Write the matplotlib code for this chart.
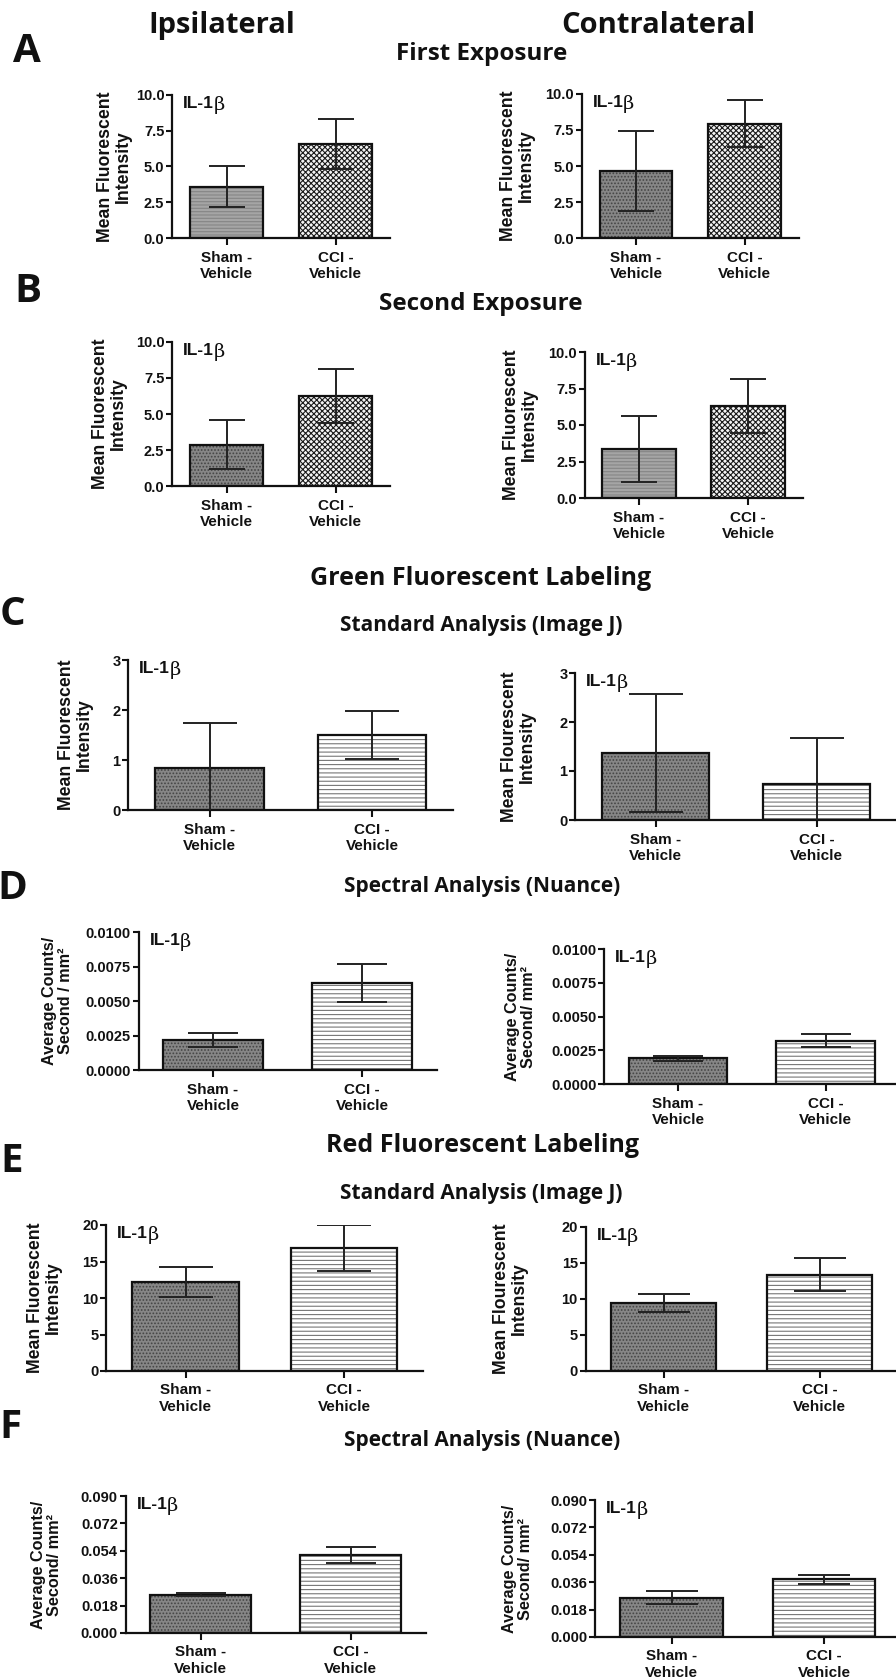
import matplotlib
matplotlib.use("Agg")
import matplotlib.pyplot as plt
import numpy as np

plt.rcParams['font.family'] = ['Liberation Sans', 'DejaVu Sans']
plt.rcParams['font.weight'] = 'bold'
plt.rcParams['hatch.linewidth'] = 0.8

W, H, DPI = 896, 1679, 100

# ---------------- data ----------------
groups = ["Sham -\nVehicle", "CCI -\nVehicle"]

a_ipsi_mean = [3.6, 6.55]
a_ipsi_sem = [1.42, 1.75]
a_contra_mean = [4.65, 7.95]
a_contra_sem = [2.8, 1.6]

b_ipsi_mean = [2.85, 6.25]
b_ipsi_sem = [1.7, 1.85]
b_contra_mean = [3.35, 6.3]
b_contra_sem = [2.25, 1.85]

c_ipsi_mean = [0.85, 1.5]
c_ipsi_sem = [0.9, 0.48]
c_contra_mean = [1.37, 0.73]
c_contra_sem = [1.21, 0.95]

d_ipsi_mean = [0.0022, 0.0063]
d_ipsi_sem = [0.0005, 0.00135]
d_contra_mean = [0.0019, 0.0032]
d_contra_sem = [0.0002, 0.00048]

e_ipsi_mean = [12.2, 16.8]
e_ipsi_sem = [2.0, 3.15]
e_contra_mean = [9.4, 13.4]
e_contra_sem = [1.27, 2.25]

f_ipsi_mean = [0.0252, 0.0512]
f_ipsi_sem = [0.001, 0.0055]
f_contra_mean = [0.0259, 0.038]
f_contra_sem = [0.0043, 0.003]

ticks_ab = [0, 2.5, 5.0, 7.5, 10.0]
ticks_c = [0, 1, 2, 3]
ticks_d = [0, 0.0025, 0.005, 0.0075, 0.01]
ticks_e = [0, 5, 10, 15, 20]
ticks_f = [0, 0.018, 0.036, 0.054, 0.072, 0.09]

ylab_mfi = "Mean Fluorescent\nIntensity"
ylab_mfi_typo = "Mean Flourescent\nIntensity"
ylab_acs_d = "Average Counts/\nSecond / mm\u00b2"
ylab_acs = "Average Counts/\nSecond/ mm\u00b2"
marker_label = "IL-1"

col_titles = ["Ipsilateral", "Contralateral"]
panel_letters = ["A", "B", "C", "D", "E", "F"]
section_titles = ["First Exposure", "Second Exposure", "Green Fluorescent Labeling",
                  "Standard Analysis (Image J)", "Spectral Analysis (Nuance)",
                  "Red Fluorescent Labeling", "Standard Analysis (Image J)",
                  "Spectral Analysis (Nuance)"]

# ---------------- layout (pixels) ----------------
# (mean, sem, ticks, fmt, ylabel, cci_style, sham_style, c0, spacing, top, bottom, label_right)
panels = [
    (a_ipsi_mean, a_ipsi_sem, ticks_ab, "%.1f", ylab_mfi, "check", "light", 226.5, 109, 95, 238, 132),
    (a_contra_mean, a_contra_sem, ticks_ab, "%.1f", ylab_mfi, "check", "dark", 636, 108.5, 94, 238, 535),
    (b_ipsi_mean, b_ipsi_sem, ticks_ab, "%.1f", ylab_mfi, "check", "dark", 226.5, 109, 342, 486, 127),
    (b_contra_mean, b_contra_sem, ticks_ab, "%.1f", ylab_mfi, "check", "light", 639, 109, 352, 498, 538),
    (c_ipsi_mean, c_ipsi_sem, ticks_c, "%d", ylab_mfi, "lines", "dark", 209.5, 162.5, 660, 810, 93),
    (c_contra_mean, c_contra_sem, ticks_c, "%d", ylab_mfi_typo, "lines", "dark", 655.5, 161, 673, 820, 536),
    (d_ipsi_mean, d_ipsi_sem, ticks_d, "%.4f", ylab_acs_d, "lines", "dark", 213, 149, 932, 1070, 73),
    (d_contra_mean, d_contra_sem, ticks_d, "%.4f", ylab_acs, "lines", "dark", 678, 147.5, 949, 1084, 536),
    (e_ipsi_mean, e_ipsi_sem, ticks_e, "%d", ylab_mfi, "lines", "dark", 185.5, 158.5, 1225, 1371, 62),
    (e_contra_mean, e_contra_sem, ticks_e, "%d", ylab_mfi_typo, "lines", "dark", 663.5, 156, 1227, 1371, 528),
    (f_ipsi_mean, f_ipsi_sem, ticks_f, "%.3f", ylab_acs, "lines", "dark", 200.5, 150, 1496, 1633, 62),
    (f_contra_mean, f_contra_sem, ticks_f, "%.3f", ylab_acs, "lines", "dark", 671.5, 152.5, 1500, 1637, 533),
]

fig = plt.figure(figsize=(W / DPI, H / DPI), dpi=DPI)
fig.patch.set_facecolor('white')

BW = 0.67
x = np.arange(len(groups))

for (mean, sem, ticks, fmt, ylab, cci_style, sham_style, c0, s, top, bot, lab_r) in panels:
    x0 = c0 - 0.5 * s
    x1 = c0 + 1.5 * s
    ax = fig.add_axes([x0 / W, 1 - bot / H, (x1 - x0) / W, (bot - top) / H])
    ax.set_xlim(-0.5, 1.5)
    ax.set_ylim(0, ticks[-1])

    # Sham bar fill
    if sham_style == "dark":
        ax.bar(x[0], mean[0], BW, color='#868686', hatch='.....', edgecolor='#444444', linewidth=0, zorder=1)
    else:
        ax.bar(x[0], mean[0], BW, color='#a5a5a5', hatch='-----', edgecolor='#858585', linewidth=0, zorder=1)
    # CCI bar fill
    if cci_style == "check":
        ax.bar(x[1], mean[1], BW, color='#f4f4f4', hatch='xxxxxx', edgecolor='#1a1a1a', linewidth=0, zorder=1)
    else:
        ax.bar(x[1], mean[1], BW, color='white', hatch='----', edgecolor='#777777', linewidth=0, zorder=1)
    # outlines
    ax.bar(x, mean, BW, fill=False, edgecolor='#111111', linewidth=1.6, zorder=3)
    cap_pts = BW * s / 4 * 72 / DPI
    ax.errorbar(x, mean, yerr=sem, fmt='none', ecolor='#222222', elinewidth=1.4,
                capsize=cap_pts, capthick=1.4, zorder=4)

    for sp in ('top', 'right'):
        ax.spines[sp].set_visible(False)
    for sp in ('left', 'bottom'):
        ax.spines[sp].set_linewidth(1.6)
        ax.spines[sp].set_color('#111111')

    ax.set_yticks(ticks)
    ax.set_yticklabels([fmt % t for t in ticks])
    ax.set_xticks(x)
    ax.set_xticklabels(groups)
    ax.tick_params(axis='y', length=4, width=1.5, pad=1.5, labelsize=10.5, colors='#111111')
    ax.tick_params(axis='x', length=5, width=1.5, pad=4, labelsize=11, colors='#111111')

    fs = 12.7 if ylab.startswith("Mean") else 11.7
    ax.set_ylabel(ylab, fontsize=fs, fontweight='bold', color='#111111', linespacing=1.1)
    ax.yaxis.set_label_coords((lab_r - x0) / (x1 - x0), 0.5)

    t1 = ax.annotate(marker_label, xy=(0, 1), xycoords='axes fraction', xytext=(8, -6),
                     textcoords='offset points', va='center', ha='left', fontsize=12.5,
                     fontweight='bold', color='#111111')
    ax.annotate("\u03b2", xy=(1, 0.5), xycoords=t1, xytext=(-0.5, -1), textcoords='offset points',
                va='center', ha='left', fontsize=14, family='DejaVu Serif', fontweight='normal',
                color='#111111')

# ---------------- headings ----------------
HF = ['Open Sans', 'DejaVu Sans']


def ftext(px, py, s, size, ha='center'):
    fig.text(px / W, 1 - py / H, s, ha=ha, va='baseline', fontsize=size,
             family=HF, fontweight='bold', color='#111111')


ftext(222, 33, col_titles[0], 21)
ftext(658, 33, col_titles[1], 21)

letter_pos = [(27, 62), (28, 302), (12, 625), (12, 899), (12, 1172), (10, 1438)]
for (px, py), L in zip(letter_pos, panel_letters):
    ftext(px, py, L, 29)

section_pos = [(482, 60, 17.5), (481, 310, 17.5), (481, 585, 18), (481, 631, 15),
               (482, 892, 15), (482, 1152, 18), (481, 1199, 15), (482, 1446, 15)]
for (px, py, sz), t in zip(section_pos, section_titles):
    ftext(px, py, t, sz)

fig.savefig("out.png", dpi=DPI, facecolor='white')
